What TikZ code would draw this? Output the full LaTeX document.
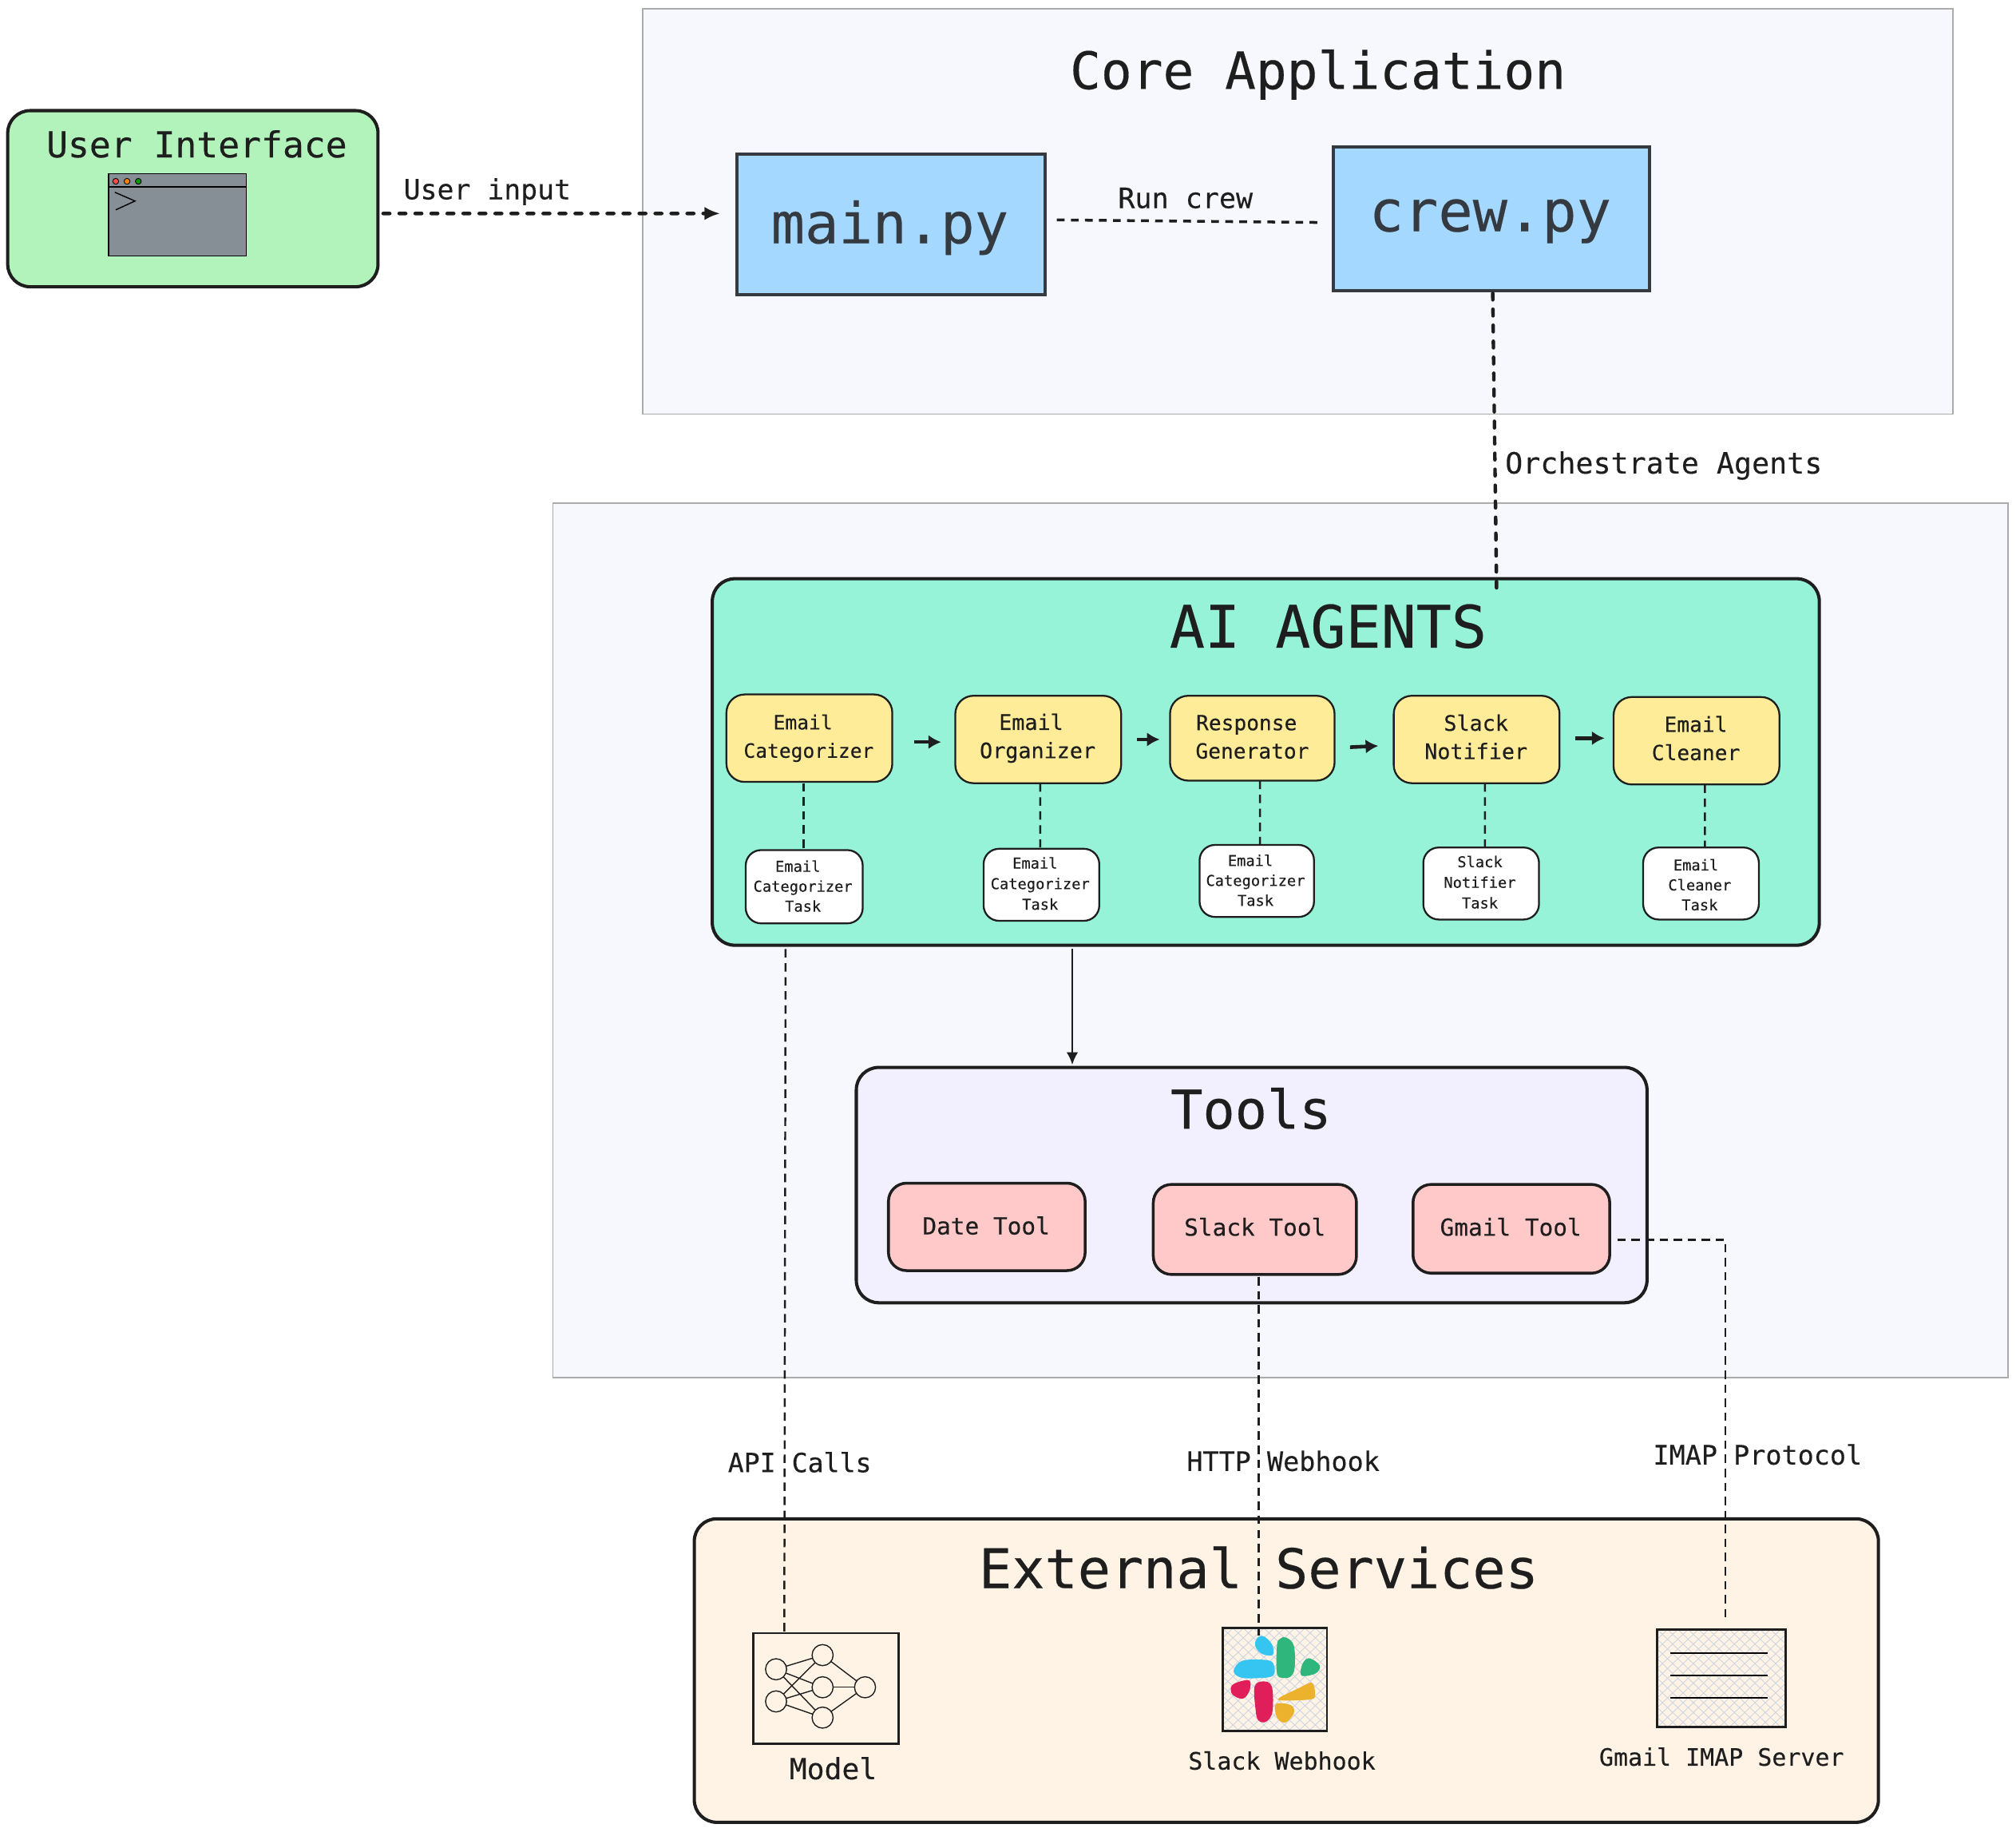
\documentclass[tikz,border=0pt]{standalone}
\usepackage{fontspec}
\usetikzlibrary{arrows.meta}
\newfontfamily\hand[FakeBold=0.25]{DejaVu Sans Mono}
\definecolor{ink}{HTML}{1E1E1E}
\definecolor{slate}{HTML}{343A40}
\definecolor{panelfill}{HTML}{F7F8FD}
\definecolor{panelline}{HTML}{ABABAB}
\definecolor{uigreen}{HTML}{B2F2BB}
\definecolor{pyblue}{HTML}{A5D8FF}
\definecolor{agentsfill}{HTML}{96F3D8}
\definecolor{agentfill}{HTML}{FFEC99}
\definecolor{toolsfill}{HTML}{F2F0FF}
\definecolor{toolfill}{HTML}{FFC9C9}
\definecolor{extfill}{HTML}{FFF3E5}
\definecolor{winfill}{HTML}{868E96}
\definecolor{hatch}{HTML}{CCD5E2}
\definecolor{skblue}{HTML}{36C5F0}
\definecolor{skgreen}{HTML}{2EB67D}
\definecolor{skred}{HTML}{E01E5A}
\definecolor{skyellow}{HTML}{ECB22E}
\newlength\unitU
\setlength\unitU{0.0322cm}
\newcommand\bx[6]{\node[#2,minimum width={(#5-#3)*0.0322cm},minimum height={(#6-#4)*0.0322cm}] (#1) at ({(#3+#5)/2},{(#4+#6)/2}) {};}
% [line height]{name}{cx}{cy}{advance per character}{text}
\newcommand\tx[6][1]{\pgfmathsetmacro\fsz{#5/0.602*0.916}\pgfmathsetmacro\lhz{#1*0.916}%
  \node[txt,font=\hand\fontsize{\fsz pt}{\lhz pt}\selectfont] (#2) at (#3,#4) {#6};}
\newcommand\hs[1]{\hspace*{#1\unitU}}
\tikzset{
  x=0.0322cm,y=-0.0322cm,
  box/.style={draw=ink,inner sep=0pt,outer sep=0pt,rectangle},
  txt/.style={text=ink,inner sep=0pt,outer sep=0pt,align=center},
  panel/.style={box,draw=panelline,line width=1pt,fill=panelfill},
  bigbox/.style={box,rounded corners=16pt,line width=2.3pt},
  uibox/.style={bigbox,fill=uigreen},
  pybox/.style={box,draw=slate,fill=pyblue,line width=2.2pt},
  agentsbox/.style={bigbox,fill=agentsfill},
  agentbox/.style={box,rounded corners=13pt,line width=1.3pt,fill=agentfill},
  taskbox/.style={box,rounded corners=11pt,line width=1.3pt,fill=white},
  toolsbox/.style={bigbox,fill=toolsfill},
  toolbox/.style={box,rounded corners=13pt,line width=2pt,fill=toolfill},
  extbox/.style={bigbox,fill=extfill},
  iconbox/.style={box,line width=1.5pt},
  neuron/.style={draw=ink,circle,line width=0.8pt,minimum size=15pt,inner sep=0pt,outer sep=0pt},
  nedge/.style={draw=ink,line width=0.8pt},
  thickdash/.style={draw=ink,line width=2.5pt,line cap=round,dash pattern=on 4.7pt off 6.7pt},
  thindash/.style={draw=ink,line width=1.4pt,dash pattern=on 6pt off 4pt},
  midash/.style={draw=ink,line width=2pt,dash pattern=on 5.5pt off 4.5pt},
  solidline/.style={draw=ink,line width=1.5pt},
  smallhead/.style={-{Latex[length=9pt,width=8.4pt]}},
  fathead/.style={draw=ink,line width=2.6pt,-{Latex[length=9pt,width=10pt]}},
}
\begin{document}
\begin{tikzpicture}
\useasboundingbox (0,0) rectangle (1568,1424);
% panels
\bx{core}{panel}{500}{7}{1519}{322}
\bx{aipanel}{panel}{430}{391}{1562}{1071}
\tx{coretitle}{1025}{58}{24.1}{Core Application}
% user interface
\bx{ui}{uibox}{6}{86}{294}{223}
\tx{uititle}{153}{112}{16.7}{User Interface}
\bx{win}{draw=black,fill=winfill,line width=0.8pt,inner sep=0pt,outer sep=0pt,rectangle}{84.5}{135}{191.5}{199}
\draw[black,line width=1pt] (win.west |- 0,145.5) -- (win.east |- 0,145.5);
\draw[black,line width=0.5pt,fill=red!70!white] (90,141) circle (2.3);
\draw[black,line width=0.5pt,fill=orange] (98.8,141) circle (2.3);
\draw[black,line width=0.5pt,fill=green!60!black] (107.6,141) circle (2.3);
\draw[black,line width=0.8pt] (89.3,149.5) -- (105,156.3) -- (90,163.2);
\tx{uinput}{379}{149}{13}{User input}
% core
\bx{main}{pybox}{573}{120}{813}{229}
\tx[1]{maintext}{692}{177}{26.4}{\textcolor{slate}{main.py}}
\bx{crew}{pybox}{1037}{114}{1283}{226}
\tx[1]{crewtext}{1159}{172}{26.9}{\textcolor{slate}{crew.py}}
\tx{runcrew}{922}{154}{13.1}{Run crew}
\tx{orch}{1294}{362}{13.7}{Orchestrate Agents}
% agents
\bx{agents}{agentsbox}{554}{450}{1415}{735}
\tx{agentstitle}{1033}{487}{27.4}{AI AGENTS}
\bx{a1}{agentbox}{565}{540}{694}{608}
\bx{a2}{agentbox}{743}{541}{872}{609}
\bx{a3}{agentbox}{910}{541}{1038}{607}
\bx{a4}{agentbox}{1084}{541}{1213}{609}
\bx{a5}{agentbox}{1255}{542}{1384}{610}
\tx[22]{a1t}{629}{574}{9.2}{Email\hs{9}\\Categorizer}
\tx[22]{a2t}{807}{574}{10}{Email\hs{10}\\Organizer}
\tx[22]{a3t}{974}{573}{9.8}{Response\hs{9}\\Generator}
\tx[22]{a4t}{1148}{573}{10}{Slack\\Notifier}
\tx[22]{a5t}{1319}{574}{9.8}{Email\\Cleaner}
\bx{t1}{taskbox}{580}{661}{671}{718}
\bx{t2}{taskbox}{765}{660}{855}{716}
\bx{t3}{taskbox}{933}{657}{1022}{713}
\bx{t4}{taskbox}{1107}{659}{1197}{715}
\bx{t5}{taskbox}{1278}{659}{1368}{715}
\tx[15.5]{t1t}{624.5}{689}{7}{Email\hs{8}\\Categorizer\\Task}
\tx[16]{t2t}{809}{687}{7}{Email\hs{8}\\Categorizer\\Task}
\tx[15.5]{t3t}{976.5}{684.5}{7}{Email\hs{8}\\Categorizer\\Task}
\tx[16]{t4t}{1151}{686}{7}{Slack\\Notifier\\Task}
\tx[15.5]{t5t}{1322}{688}{7}{Email\hs{6}\\Cleaner\\Task}
% tools
\bx{tools}{toolsbox}{666}{830}{1281}{1013}
\tx{toolstitle}{973}{862}{25}{Tools}
\bx{date}{toolbox}{691}{920}{844}{988}
\bx{slack}{toolbox}{897}{921}{1055}{991}
\bx{gmail}{toolbox}{1099}{921}{1252}{990}
\tx{datet}{767}{953}{11}{Date Tool}
\tx{slackt}{976}{954}{11}{Slack Tool}
\tx{gmailt}{1175}{954}{11}{Gmail Tool}
% external
\bx{ext}{extbox}{540}{1181}{1461}{1417}
\tx{exttitle}{979}{1219}{25.6}{External Services}
\bx{model}{iconbox}{586}{1270}{699}{1356}
\bx{skbox}{iconbox}{951}{1266}{1032}{1346}
\bx{gbox}{iconbox}{1289}{1267}{1389}{1343}
\begin{scope}
\clip (skbox.south west) rectangle (skbox.north east);
\foreach \k in {-16,...,26}{
  \draw[hatch,line width=0.5pt] ({951+\k*8},1266) -- ({951+\k*8+85},1346);
  \draw[hatch,line width=0.5pt] ({951+\k*8},1266) -- ({951+\k*8-85},1346);}
\end{scope}
\begin{scope}
\clip (gbox.south west) rectangle (gbox.north east);
\foreach \k in {-16,...,30}{
  \draw[hatch,line width=0.5pt] ({1289+\k*8},1267) -- ({1289+\k*8+80},1343);
  \draw[hatch,line width=0.5pt] ({1289+\k*8},1267) -- ({1289+\k*8-80},1343);}
\end{scope}
\draw[iconbox,fill=none] (skbox.south west) rectangle (skbox.north east);
\draw[iconbox,fill=none] (gbox.south west) rectangle (gbox.north east);
\foreach \yy in {1285.6,1303,1320}{\draw[black,line width=1.1pt] (1299,\yy) -- (1375,\yy);}
% slack logo
\begin{scope}[shift={(869.6,1229.8)},x=0.3961*0.0322cm,y=-0.2070*0.0322cm]
\fill[skblue] plot[smooth cycle,tension=0.6] coordinates {(285,205) (302,235) (304,275) (283,272) (270,245) (272,215)};
\fill[skblue] plot[smooth cycle,tension=0.6] coordinates {(245,297) (295,296) (307,320) (303,355) (270,363) (240,360) (227,335)};
\fill[skgreen] plot[smooth cycle,tension=0.6] coordinates {(330,210) (345,240) (347,320) (340,355) (325,362) (312,345) (312,240) (318,215)};
\fill[skgreen] plot[smooth cycle,tension=0.6] coordinates {(375,288) (396,315) (388,345) (360,353) (362,310)};
\fill[skred] plot[smooth cycle,tension=0.6] coordinates {(258,372) (258,410) (245,440) (225,425) (222,395) (235,378)};
\fill[skred] plot[smooth cycle,tension=0.6] coordinates {(285,375) (302,395) (303,490) (290,527) (275,520) (270,480) (268,395)};
\fill[skyellow] plot[smooth cycle,tension=0.5] coordinates {(380,380) (387,420) (380,442) (320,447) (318,435) (350,405)};
\fill[skyellow] plot[smooth cycle,tension=0.6] coordinates {(310,460) (340,465) (345,495) (328,530) (312,510)};
\end{scope}
% neural network
\node[neuron] (n1) at (603.6,1298) {};
\node[neuron] (n2) at (603.6,1323) {};
\node[neuron] (m1) at (639.8,1287) {};
\node[neuron] (m2) at (639.8,1312) {};
\node[neuron] (m3) at (639.8,1335.6) {};
\node[neuron] (o1) at (672.8,1312) {};
\foreach \aa in {n1,n2}{\foreach \bb in {m1,m2,m3}{\draw[nedge] (\aa) -- (\bb);}}
\foreach \bb in {m1,m2,m3}{\draw[nedge] (\bb) -- (o1);}
\tx{modelt}{648}{1375}{13.6}{Model}
\tx{skt}{997}{1369}{11.2}{Slack Webhook}
\tx{gt}{1339}{1366}{11.2}{Gmail IMAP Server}
\tx{apil}{622}{1137}{12.4}{API Calls}
\tx{httpl}{998}{1136}{12.5}{HTTP Webhook}
\tx{imapl}{1367}{1131}{12.5}{IMAP Protocol}
% connectors
\draw[thickdash,-{Latex[length=11pt,width=9.5pt]}] ([shift={(4,11.5)}]ui.east) -- ([shift={(-13,-8.5)}]main.west);
\draw[midash] ([shift={(9,-3.5)}]main.east) -- ([shift={(-9,3)}]crew.west);
\draw[thickdash] ([shift={(1,2)}]crew.south) -- ([shift={(179.5,8)}]agents.north);
\draw[fathead] ([shift={(17,3)}]a1.east) -- ([shift={(-11,2)}]a2.west);
\draw[fathead] ([shift={(12,0)}]a2.east) -- ([shift={(-8,1)}]a3.west);
\draw[fathead] ([shift={(12,7)}]a3.east) -- ([shift={(-12,5)}]a4.west);
\draw[fathead] ([shift={(12,-1)}]a4.east) -- ([shift={(-7,-2)}]a5.west);
\draw[thindash] ([shift={(-4.5,1)}]a1.south) -- ([shift={(-0.5,0)}]t1.north);
\draw[thindash] ([shift={(1.5,0)}]a2.south) -- ([shift={(-1,-1)}]t2.north);
\draw[thindash] ([shift={(6,0)}]a3.south) -- ([shift={(2.5,0)}]t3.north);
\draw[thindash] ([shift={(6.5,0)}]a4.south) -- ([shift={(3,0)}]t4.north);
\draw[thindash] ([shift={(6.5,0)}]a5.south) -- ([shift={(3,0)}]t5.north);
\draw[solidline,smallhead] ([shift={(-150.5,3)}]agents.south) -- ([shift={(-139.5,-2)}]tools.north);
\draw[thindash] ([shift={(-373.5,3)}]agents.south) -- ([shift={(-32.5,0)}]model.north);
\draw[thindash] ([shift={(3,2)}]slack.south) -- ([shift={(-12.5,6)}]skbox.north);
\draw[thindash] ([shift={(6,8.5)}]gmail.east) -| ([shift={(3,-5)}]gbox.north);
\end{tikzpicture}
\end{document}
